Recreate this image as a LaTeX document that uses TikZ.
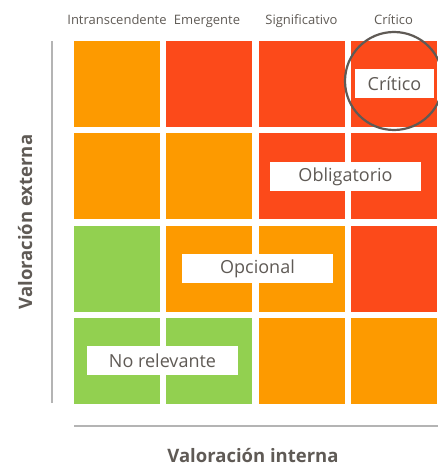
\documentclass[tikz,border=0pt]{standalone}
\usepackage{fontspec}
\setmainfont{Open Sans}
\definecolor{naranja}{HTML}{FD9A00}
\definecolor{rojo}{HTML}{FC4A1A}
\definecolor{verde}{HTML}{92D050}
\definecolor{texto}{HTML}{5F5A55}
\definecolor{eje}{HTML}{B4B4B4}
\begin{document}
\begin{tikzpicture}[x=1pt,y=-1pt,
  celda/.style={minimum size=86pt,inner sep=0pt},
  etiqueta/.style={fill=white,text=texto,font=\fontsize{18}{18}\selectfont,minimum height=29pt,minimum width=151pt,inner sep=0pt},
  cabecera/.style={text=texto,anchor=base,font=\fontsize{13}{13}\selectfont},
  titulo/.style={text=texto,anchor=base,font=\bfseries\fontsize{18.5}{18.5}\selectfont}]
\useasboundingbox (0,0) rectangle (438,465);
\foreach \fila/\colores in {1/{naranja,rojo,rojo,rojo},2/{naranja,naranja,rojo,rojo},3/{verde,naranja,naranja,rojo},4/{verde,verde,naranja,naranja}}
  \foreach \c [count=\col] in \colores
    \node[celda,fill=\c] (c\fila\col) at ({117+92.3*(\col-1)},{84+92.3*(\fila-1)}) {};
% cabeceras
\node[cabecera] (h1) at (117,25) {Intranscendente};
\node[cabecera] (h2) at (207,25) {Emergente};
\node[cabecera] (h3) at (301.5,25) {Significativo};
\node[cabecera] (h4) at (393.5,25) {Crítico};
% ejes
\coordinate (y0) at (52,403); \coordinate (y1) at (52,41);
\coordinate (x0) at (74,426); \coordinate (x1) at (438,426);
\draw[eje,line width=2pt] (y0)--(y1);
\draw[eje,line width=2pt] (x0)--(x1);
\node[titulo] (ejex) at (253,462) {Valoración interna};
\node[titulo,rotate=90] (ejey) at (32,222) {Valoración externa};
% etiquetas
\node[etiqueta] (norel) at (162.5,360.5) {No relevante};
\node[etiqueta] (opc) at (257.5,268.5) {Opcional};
\node[etiqueta] (obl) at (345.5,176.5) {Obligatorio};
\node[etiqueta,minimum width=79pt] (crit) at (394.5,83.5) {Crítico};
\node[draw=texto,line width=2.2pt,circle,minimum size=98pt] (foco) at (394,81) {};
\end{tikzpicture}
\end{document}
